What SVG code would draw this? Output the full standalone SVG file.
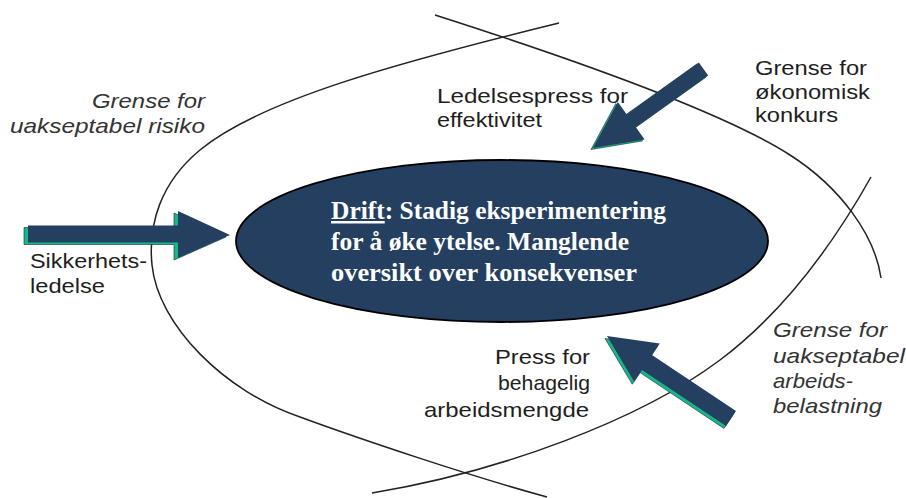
<svg xmlns="http://www.w3.org/2000/svg" width="906" height="498" viewBox="0 0 906 498">
<style>
.bound{fill:none;stroke:#222;stroke-width:1.5}
.lbl{font-family:"Liberation Sans",Arial,sans-serif;font-size:21px;fill:#1e1e1e}
.it{font-style:italic;fill:#333}
.shadow{fill:#14B88A;stroke:#1a2a22;stroke-width:0.6}
.arrow{fill:#243F60}
.drift{font-family:"Liberation Serif","Times New Roman",serif;font-weight:bold;font-size:25px;fill:#fff}
</style>
<rect width="906" height="498" fill="#fff"/>
<g id="boundaries">
<path class="bound" d="M559,23 C400,62 260,100 200,150 C160,183 148,225 152,265 C158,325 225,392 300,417 C360,439 470,476 547,497"/>
<path class="bound" d="M372,493 C500,472 640,420 720,360 C780,315 830,250 871,177"/>
<path class="bound" d="M435,15 C560,55 720,110 790,155 C840,187 875,235 881,278"/>
</g>
<g id="drift">
<ellipse cx="502" cy="241" rx="266" ry="81" fill="#243F60" stroke="#000" stroke-width="1.8"/>
<text class="drift" x="331" y="219" textLength="335" lengthAdjust="spacingAndGlyphs"><tspan text-decoration="underline">Drift</tspan>: Stadig eksperimentering</text>
<text class="drift" x="331" y="250" textLength="298" lengthAdjust="spacingAndGlyphs">for å øke ytelse. Manglende</text>
<text class="drift" x="331" y="281" textLength="306" lengthAdjust="spacingAndGlyphs">oversikt over konsekvenser</text>
</g>
<g id="connectors">
<g id="arrow-sikkerhet">
<polygon class="shadow" transform="translate(-4,2)" points="28,225.5 178,225.5 178,211 230,235 178,258 178,242.5 28,242.5"/>
<polygon class="arrow" points="28,225.5 178,225.5 178,211 230,235 178,258 178,242.5 28,242.5"/>
</g>
<g id="arrow-ledelsespress">
<polygon class="shadow" transform="translate(-2,1.5)" points="698.85,62.49 626.59,114.15 617.86,101.94 593,148 644.62,139.38 635.89,127.17 708.15,75.51"/>
<polygon class="arrow" points="698.85,62.49 626.59,114.15 617.86,101.94 593,148 644.62,139.38 635.89,127.17 708.15,75.51"/>
</g>
<g id="arrow-press">
<polygon class="shadow" transform="translate(-2,2.5)" points="735.99,411.01 651.96,355.10 659.71,343.44 607,336 634.23,381.74 641.98,370.08 726.01,425.99"/>
<polygon class="arrow" points="735.99,411.01 651.96,355.10 659.71,343.44 607,336 634.23,381.74 641.98,370.08 726.01,425.99"/>
</g>
</g>
<g id="label-risiko">
<text class="lbl it" x="205" y="108" text-anchor="end" textLength="113" lengthAdjust="spacingAndGlyphs">Grense for</text>
<text class="lbl it" x="205" y="133" text-anchor="end" textLength="195" lengthAdjust="spacingAndGlyphs">uakseptabel risiko</text>
</g>
<g id="label-ledelsespress">
<text class="lbl" x="437" y="103" textLength="191" lengthAdjust="spacingAndGlyphs">Ledelsespress for</text>
<text class="lbl" x="437" y="127" textLength="105" lengthAdjust="spacingAndGlyphs">effektivitet</text>
</g>
<g id="label-okonomisk">
<text class="lbl" x="755" y="75" textLength="112" lengthAdjust="spacingAndGlyphs">Grense for</text>
<text class="lbl" x="755" y="99" textLength="115" lengthAdjust="spacingAndGlyphs">økonomisk</text>
<text class="lbl" x="755" y="122" textLength="83" lengthAdjust="spacingAndGlyphs">konkurs</text>
</g>
<g id="label-sikkerhet">
<text class="lbl" x="30" y="268" textLength="117" lengthAdjust="spacingAndGlyphs">Sikkerhets-</text>
<text class="lbl" x="30" y="293" textLength="75" lengthAdjust="spacingAndGlyphs">ledelse</text>
</g>
<g id="label-press">
<text class="lbl" x="590" y="364" text-anchor="end" textLength="95" lengthAdjust="spacingAndGlyphs">Press for</text>
<text class="lbl" x="590" y="390" text-anchor="end" textLength="92" lengthAdjust="spacingAndGlyphs">behagelig</text>
<text class="lbl" x="589" y="417" text-anchor="end" textLength="165" lengthAdjust="spacingAndGlyphs">arbeidsmengde</text>
</g>
<g id="label-arbeidsbelastning">
<text class="lbl it" x="773" y="337" textLength="114" lengthAdjust="spacingAndGlyphs">Grense for</text>
<text class="lbl it" x="773" y="363" textLength="132" lengthAdjust="spacingAndGlyphs">uakseptabel</text>
<text class="lbl it" x="773" y="388" textLength="80" lengthAdjust="spacingAndGlyphs">arbeids-</text>
<text class="lbl it" x="773" y="413" textLength="109" lengthAdjust="spacingAndGlyphs">belastning</text>
</g>
</svg>
